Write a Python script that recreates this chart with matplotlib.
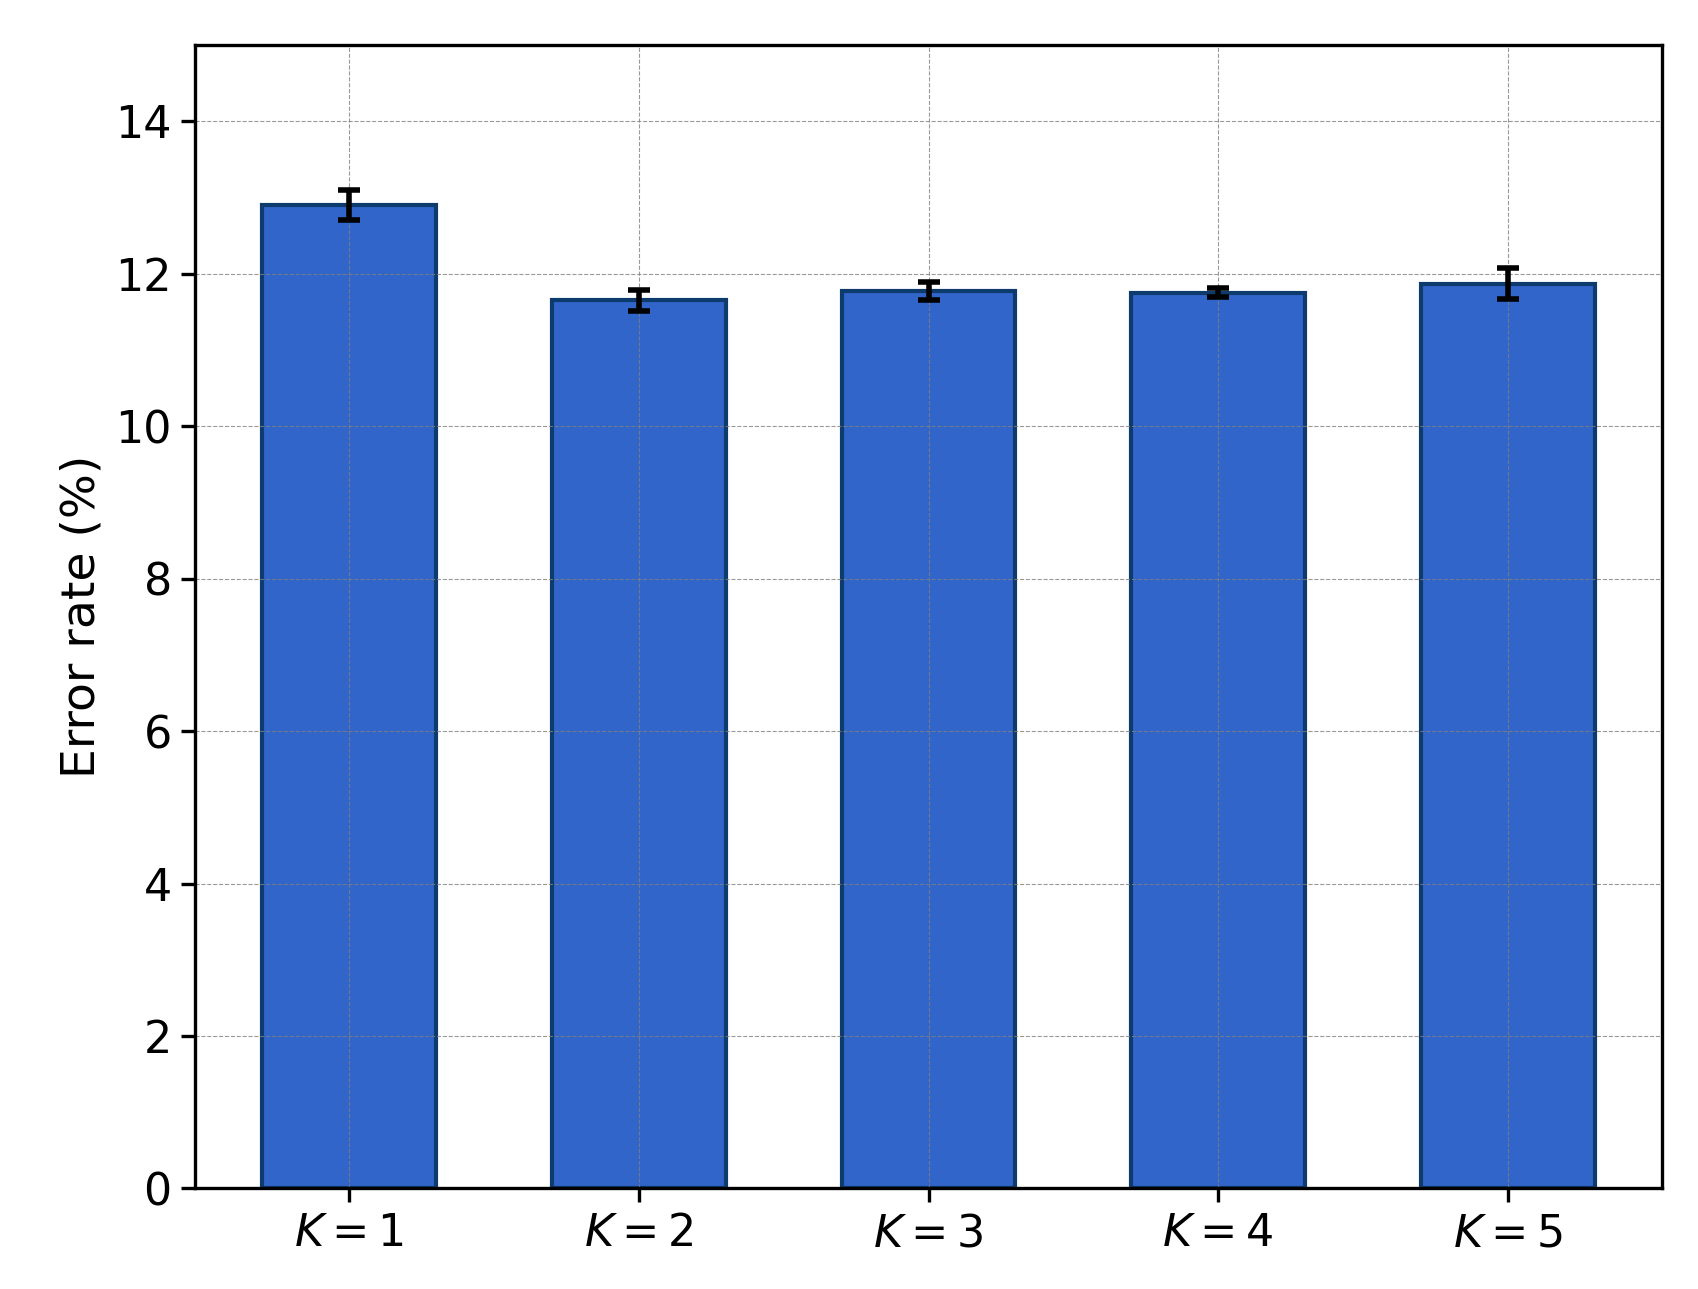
import matplotlib

matplotlib.use("Agg")
import matplotlib.pyplot as plt

labels = [r"$K=1$", r"$K=2$", r"$K=3$", r"$K=4$", r"$K=5$"]
error_rate = [12.9, 11.65, 11.77, 11.75, 11.87]
error_std = [0.2, 0.14, 0.12, 0.06, 0.2]

fig, ax = plt.subplots(figsize=(8.495, 6.445), dpi=200)
fig.subplots_adjust(left=0.115, right=0.978, top=0.965, bottom=0.078)

x = range(len(labels))
ax.bar(x, error_rate, width=0.6, color="#3165c9", edgecolor="#0d3b6e", lw=1.5,
       yerr=error_std, capsize=4, error_kw=dict(elinewidth=2, capthick=2, ecolor="black"))
ax.set_xticks(list(x))
ax.set_xticklabels(labels)
ax.set_xlim(-0.53, 4.53)
ax.set_ylim(0, 15)
ax.set_yticks(range(0, 15, 2))
ax.set_ylabel("Error rate (%)", fontsize=17)
ax.tick_params(labelsize=16, width=1.2, length=5)
for s in ax.spines.values():
    s.set_linewidth(1.2)
ax.grid(True, ls="--", lw=0.4, color="gray", alpha=0.8)
fig.savefig("out.png", dpi=200)
